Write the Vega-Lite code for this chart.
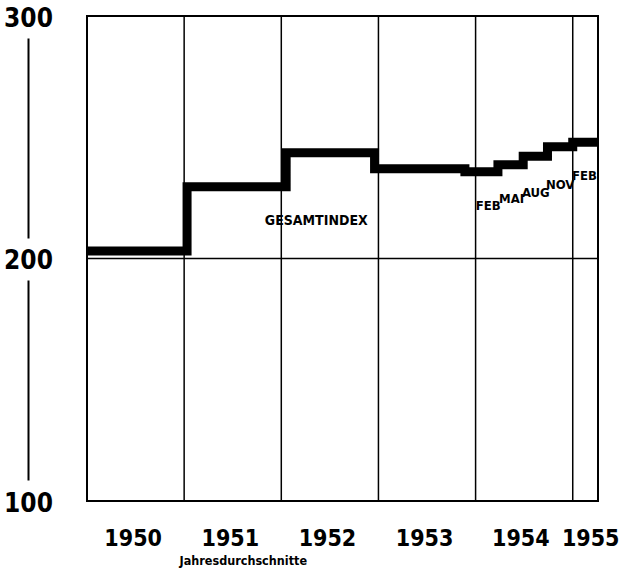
{
  "$schema": "https://vega.github.io/schema/vega-lite/v6.json",
  "width": 511,
  "height": 485,
  "autosize": "none",
  "padding": {"left": 87, "top": 16, "right": 21, "bottom": 67},
  "background": "white",
  "config": {
    "view": {"stroke": "black", "strokeWidth": 2},
    "font": "DejaVu Sans Condensed, sans-serif",
    "axis": {"labelFont": "DejaVu Sans Condensed, sans-serif", "titleFont": "DejaVu Sans Condensed, sans-serif"}
  },
  "datasets": {
    "index": [
      {"pos": 0, "wert": 203.1},
      {"pos": 1.03, "wert": 229.6},
      {"pos": 2.05, "wert": 243.6},
      {"pos": 2.96, "wert": 237.0},
      {"pos": 3.89, "wert": 235.8},
      {"pos": 4.23, "wert": 238.7},
      {"pos": 4.49, "wert": 242.2},
      {"pos": 4.74, "wert": 246.1},
      {"pos": 5.0, "wert": 247.9},
      {"pos": 5.26, "wert": 247.9}
    ],
    "grid": [{"g": 1}, {"g": 2}, {"g": 3}, {"g": 4}, {"g": 5}],
    "hgrid": [{"h": 200}],
    "labels": [
      {"pos": 2.36, "wert": 215.6, "t": "GESAMTINDEX", "s": 14},
      {"pos": 4.13, "wert": 221.8, "t": "FEB", "s": 13},
      {"pos": 4.37, "wert": 224.7, "t": "MAI", "s": 13},
      {"pos": 4.62, "wert": 227.2, "t": "AUG", "s": 13},
      {"pos": 4.87, "wert": 230.5, "t": "NOV", "s": 13},
      {"pos": 5.12, "wert": 234.2, "t": "FEB", "s": 13}
    ]
  },
  "layer": [
    {
      "data": {"name": "grid"},
      "mark": {"type": "rule", "color": "black", "strokeWidth": 1.5},
      "encoding": {
        "x": {
          "field": "g", "type": "quantitative",
          "scale": {"domain": [0, 5.26], "nice": false, "zero": false},
          "axis": {
            "values": [0.47, 1.47, 2.47, 3.47, 4.46, 5.18],
            "labelExpr": "datum.value < 5 ? toString(1950 + floor(datum.value)) : '1955'",
            "grid": false, "ticks": false, "tickSize": 0, "domain": false,
            "labelFlush": false, "labelBound": false, "labelOverlap": false,
            "labelFontSize": 23, "labelFontWeight": "bold", "labelColor": "black",
            "labelBaseline": "alphabetic", "labelPadding": 44,
            "title": "Jahresdurchschnitte",
            "titleFontSize": 12.5, "titleFontWeight": "bold", "titleColor": "black",
            "titleX": 92, "titleY": 63, "titleAlign": "left", "titleBaseline": "alphabetic", "titleAnchor": "start"
          }
        }
      }
    },
    {
      "data": {"name": "hgrid"},
      "mark": {"type": "rule", "color": "black", "strokeWidth": 1.5},
      "encoding": {
        "y": {
          "field": "h", "type": "quantitative",
          "scale": {"domain": [100, 300], "nice": false, "zero": false},
          "axis": {
            "values": [100, 200, 300],
            "grid": false, "ticks": false, "tickSize": 0,
            "domain": true, "domainColor": "black", "domainWidth": 2,
            "domainDash": [200, 42], "domainDashOffset": 221,
            "offset": 59,
            "labelAlign": "center", "labelBaseline": "middle", "labelPadding": 0,
            "labelFlush": false, "labelBound": false, "labelOverlap": false,
            "labelFontSize": 26, "labelFontWeight": "bold", "labelColor": "black",
            "labelOffset": 2,
            "title": null
          }
        }
      }
    },
    {
      "data": {"name": "index"},
      "mark": {"type": "line", "interpolate": "step-after", "color": "black", "strokeWidth": 9, "strokeCap": "butt", "strokeJoin": "miter", "clip": true},
      "encoding": {
        "x": {"field": "pos", "type": "quantitative"},
        "y": {"field": "wert", "type": "quantitative"}
      }
    },
    {
      "data": {"name": "labels"},
      "mark": {"type": "text", "color": "black", "fontWeight": "bold", "align": "center", "baseline": "middle"},
      "encoding": {
        "x": {"field": "pos", "type": "quantitative"},
        "y": {"field": "wert", "type": "quantitative"},
        "text": {"field": "t"},
        "size": {"field": "s", "type": "quantitative", "scale": null}
      }
    }
  ]
}
